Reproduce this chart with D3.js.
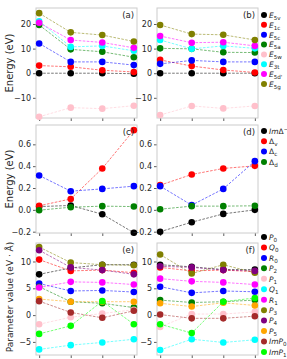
<!DOCTYPE html>
<html><head><meta charset="utf-8">
<script src="https://cdn.jsdelivr.net/npm/d3@7"></script>
<style>body{margin:0;background:#fff} svg{display:block;font-family:"DejaVu Sans",sans-serif}</style>
</head><body><svg id="c" width="287" height="359"></svg>
<script>
const xCategories = [0,1,2,3];
const energyLabels = ["E_5v","E_1c","E_5c","E_5a","E_5w","E_3t","E_5d'","E_5g"];
const energyColors = ["black","red","blue","green","pink","cyan","magenta","olive"];
const energyA = [[0,0,0,-0.2],[3.1,2.6,1.2,0.5],[12.1,4.6,4.6,3.3],[19.6,9.7,8.7,6.5],[-17.7,-14.0,-14.4,-13.2],[21.1,10.7,11.1,9.1],[20.5,13.5,12.5,10.3],[24.4,16.6,15.5,12.9]];
const energyB = [[0,0,0,0],[5.4,2.9,1.3,0.3],[3.8,5.2,4.6,4.6],[10.1,9.9,8.5,8.4],[-17.0,-13.3,-14.3,-13.3],[13.5,9.9,11.1,10.1],[15.1,12.4,12.6,11.1],[19.6,15.9,15.6,13.5]];
const deltaLabels = ["ImΔ^-","Δ_v","Δ_c","Δ_d"];
const deltaColors = ["black","red","blue","green"];
const deltaC = [[0.03,0.04,-0.04,-0.21],[0.037,0.10,0.379,0.73],[0.315,0.171,0.192,0.217],[-0.003,0.024,0.034,0.03]];
const deltaD = [[-0.2,-0.113,-0.037,0.0],[0.226,0.324,0.379,0.403],[0.217,0.043,0.192,0.446],[0.006,0.034,0.034,0.037]];
const paramLabels = ["P_0","Q_0","R_0","P_2","P_1","Q_1","R_1","P_3","P_4","P_5","ImP_0","ImP_1"];
const paramColors = ["black","red","blue","green","pink","cyan","magenta","olive","purple","orange","brown","lime"];
const paramE = [[7.6,8.8,9.4,9.4],[10.35,8.25,8.4,7.9],[5.9,4.5,4.6,4.3],[5.3,2.5,2.2,1.4],[-1.7,-0.4,0.3,1.0],[-6.4,-5.6,-5.1,-4.5],[5.15,6.2,6.1,5.7],[12.7,9.8,9.4,9.3],[12.1,8.9,8.4,7.6],[3.0,2.5,2.5,2.5],[2.6,0.5,-0.5,0.8],[-3.5,-2.0,2.6,-1.7]];
const paramF = [[9.4,9.0,8.5,8.5],[8.9,8.25,8.4,8.1],[5.3,4.15,4.5,4.35],[2.8,2.35,2.5,2.8],[-2.2,0.2,0.2,0.6],[-6.5,-4.5,-5.1,-4.6],[6.8,6.3,6.1,5.7],[11.3,7.75,9.4,7.9],[9.1,8.9,8.4,8.25],[2.2,1.6,2.3,1.8],[0.1,-0.6,-0.6,-0.2],[-1.7,-3.35,2.5,3.2]];
const yTicksEnergy = [-10,0,10,20];
const yTicksDelta = [-0.2,0,0.2,0.4,0.6];
const yTicksParam = [-5,0,5,10];

const svg = d3.select("#c");
const cols = [[36,137],[157,258]];
const rows = [[8,118],[125,233],[243,355]];
const yDomains = [[-18.2,26.5],[-0.212,0.777],[-7.44,13.45]];
const yTicks = [yTicksEnergy, yTicksDelta, yTicksParam];
const yFormats = [d3.format("d"), d3.format(".1f"), d3.format("d")];
const panels = [
 {r:0,c:0,data:energyA,colors:energyColors,tag:"(a)"},
 {r:0,c:1,data:energyB,colors:energyColors,tag:"(b)",legend:energyLabels,ly:15,ldy:9.85},
 {r:1,c:0,data:deltaC,colors:deltaColors,tag:"(c)"},
 {r:1,c:1,data:deltaD,colors:deltaColors,tag:"(d)",legend:deltaLabels,ly:131,ldy:10.3},
 {r:2,c:0,data:paramE,colors:paramColors,tag:"(e)"},
 {r:2,c:1,data:paramF,colors:paramColors,tag:"(f)",legend:paramLabels,ly:237,ldy:10.45}
];

function richLabel(t, s){
  let base=s, sub=null, sup=null;
  if(s.includes("_")){[base,sub]=s.split("_");}
  else if(s.includes("^")){[base,sup]=s.split("^");}
  const m = base.match(/^(Im)?(.*)$/);
  if(m[1]) t.append("tspan").attr("font-style","italic").text("Im");
  const core = m[2];
  t.append("tspan").attr("font-style", core==="Δ"?"normal":"italic").text(core);
  if(sub) t.append("tspan").attr("font-size","5.6px").attr("dy",2).text(sub);
  if(sup) t.append("tspan").attr("font-size","5.6px").attr("dy",-3).text(sup==="-"?"−":sup);
}

panels.forEach(p=>{
  const [x0,x1]=cols[p.c], [y0,y1]=rows[p.r];
  const x = d3.scaleLinear().domain([-0.1,3.1]).range([x0,x1]);
  const y = d3.scaleLinear().domain(yDomains[p.r]).range([y1,y0]);
  const g = svg.append("g");
  const ya = g.append("g").attr("transform",`translate(${x0},0)`)
    .call(d3.axisLeft(y).tickValues(yTicks[p.r]).tickFormat(yFormats[p.r]).tickSize(3).tickPadding(2));
  ya.select(".domain").remove();
  ya.selectAll("line").attr("stroke","#333").attr("stroke-width",0.8);
  ya.selectAll("text").attr("font-size","8px").attr("fill","#262626").attr("font-family","DejaVu Sans");
  const xa = g.append("g").attr("transform",`translate(0,${y1})`)
    .call(d3.axisBottom(x).tickValues(xCategories).tickFormat("").tickSize(3));
  xa.select(".domain").remove();
  xa.selectAll("line").attr("stroke","#333").attr("stroke-width",0.8);
  g.append("rect").attr("x",x0).attr("y",y0).attr("width",x1-x0).attr("height",y1-y0)
    .attr("fill","none").attr("stroke","#cccccc").attr("stroke-width",1);
  const line = d3.line().x((d,i)=>x(xCategories[i])).y(d=>y(d));
  p.data.forEach((vals,si)=>{
    const col = p.colors[si];
    g.append("path").datum(vals).attr("d",line).attr("fill","none").attr("stroke",col)
      .attr("stroke-width",0.9).attr("stroke-dasharray","2.6,1.4").attr("opacity",0.6);
    g.selectAll(null).data(vals).enter().append("circle")
      .attr("cx",(d,i)=>x(xCategories[i])).attr("cy",d=>y(d)).attr("r",3.3).attr("fill",col);
  });
  g.append("text").attr("x",x1-3).attr("y",y0+10).attr("text-anchor","end")
    .attr("font-size","8.5px").attr("fill","#262626").text(p.tag);
  if(p.legend){
    p.legend.forEach((lab,i)=>{
      const ly = p.ly + i*p.ldy;
      svg.append("circle").attr("cx",264).attr("cy",ly).attr("r",3).attr("fill",p.colors[i]);
      const t = svg.append("text").attr("x",269).attr("y",ly+2.8).attr("font-size","7.5px").attr("fill","#262626");
      richLabel(t, lab);
    });
  }
});
const ylabels = [["Energy  (eV)",63,10],["Energy  (eV)",179,10],["Parameter value  (eV · Å)",297,9]];
ylabels.forEach(([s,cy,fs])=>{
  svg.append("text").attr("transform",`translate(13,${cy}) rotate(-90)`).attr("text-anchor","middle")
    .attr("font-size",fs+"px").attr("fill","#262626").text(s);
});
</script></body></html>
